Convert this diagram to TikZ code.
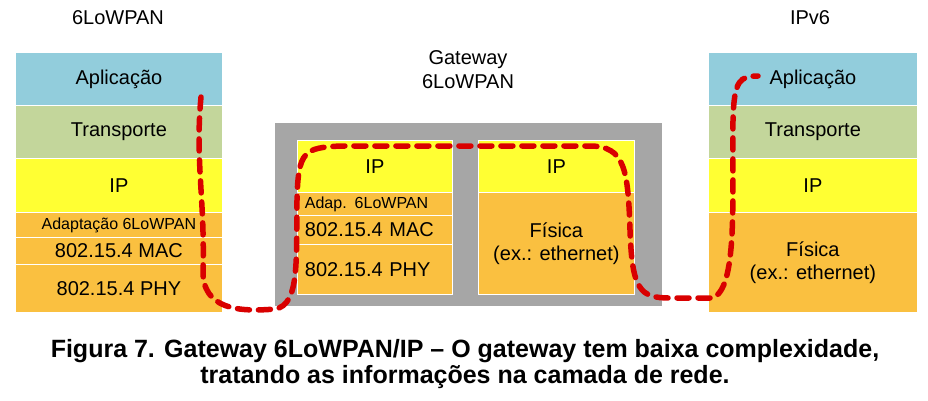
\documentclass[tikz,border=0pt]{standalone}
\usepackage{fontspec}
\setmainfont{Liberation Sans}
\usetikzlibrary{positioning}
\definecolor{appblue}{RGB}{146,205,220}
\definecolor{trgreen}{RGB}{195,214,155}
\definecolor{ipyellow}{RGB}{255,255,51}
\definecolor{lorange}{RGB}{250,192,64}
\definecolor{gwgrey}{RGB}{166,166,166}
\tikzset{
  layer/.style={draw=white, line width=0.8pt, minimum width=#1, inner sep=0pt, anchor=north west, align=center, font=\fontsize{20}{23}\selectfont},
  datapath/.style={draw=red!85!black, line width=5.5pt, dash pattern=on 12pt off 9pt, line cap=round}
}
\begin{document}
\begin{tikzpicture}[x=1pt,y=-1pt]
\useasboundingbox (0,0) rectangle (928,400);
% left stack
\node[layer=207pt, fill=appblue, minimum height=53pt] (lapp) at (15,52) {Aplicação};
\node[layer=207pt, fill=trgreen, minimum height=53pt] (ltr) at (15,105) {Transporte};
\node[layer=207pt, fill=ipyellow, minimum height=54pt] (lip) at (15,158) {IP};
\node[layer=207pt, fill=lorange, minimum height=25pt, font=\fontsize{16}{18}\selectfont] (lad) at (15,212) {Adaptação 6LoWPAN};
\node[layer=207pt, fill=lorange, minimum height=27pt] (lmac) at (15,237) {802.15.4 MAC};
\node[layer=207pt, fill=lorange, minimum height=48pt] (lphy) at (15,264) {802.15.4 PHY};
\node[font=\fontsize{20}{23}\selectfont] (ltitle) at (118,18) {6LoWPAN};
% gateway
\fill[gwgrey] (275,123) rectangle (662,306);
\node[font=\fontsize{20}{24}\selectfont, align=center] (gtitle) at (468,70) {Gateway\\6LoWPAN};
\node[layer=155pt, fill=ipyellow, minimum height=52pt] (gip) at (297,140) {IP};
\node[layer=155pt, fill=lorange, minimum height=23pt, font=\fontsize{16}{18}\selectfont, text width=148pt, align=left] (gad) at (297,192) {\hspace*{4pt}Adap. 6LoWPAN};
\node[layer=155pt, fill=lorange, minimum height=29pt, text width=148pt, align=left] (gmac) at (297,215) {\hspace*{4pt}802.15.4 MAC};
\node[layer=155pt, fill=lorange, minimum height=50pt, text width=148pt, align=left] (gphy) at (297,244) {\hspace*{4pt}802.15.4 PHY};
\node[layer=156pt, fill=ipyellow, minimum height=52pt] (gip2) at (478,140) {IP};
\node[layer=156pt, fill=lorange, minimum height=102pt] (gfis) at (478,192) {Física\\(ex.: ethernet)};
% right stack
\node[layer=209pt, fill=appblue, minimum height=53pt] (rapp) at (708,52) {Aplicação};
\node[layer=209pt, fill=trgreen, minimum height=53pt] (rtr) at (708,105) {Transporte};
\node[layer=209pt, fill=ipyellow, minimum height=54pt] (rip) at (708,158) {IP};
\node[layer=209pt, fill=lorange, minimum height=100pt] (rfis) at (708,212) {Física\\(ex.: ethernet)};
\node[font=\fontsize{20}{23}\selectfont] (rtitle) at (810,18) {IPv6};
% data path
\draw[datapath] (201,97) .. controls (195,160) and (205,200) .. (203,270)
  .. controls (202,310) and (240,312) .. (275,309)
  .. controls (300,305) and (296,260) .. (297,200)
  .. controls (298,150) and (305,148) .. (340,146)
  -- (590,146) .. controls (625,146) and (628,170) .. (630,230)
  .. controls (632,290) and (640,298) .. (670,298)
  -- (712,298) .. controls (738,290) and (732,200) .. (733,120)
  .. controls (734,80) and (740,76) .. (758,76);
% caption
\node[font=\bfseries\fontsize{25}{26}\selectfont, align=center] (caption) at (465,364) {Figura 7. Gateway 6LoWPAN/IP -- O gateway tem baixa complexidade,\\tratando as informações na camada de rede.};
\end{tikzpicture}
\end{document}
